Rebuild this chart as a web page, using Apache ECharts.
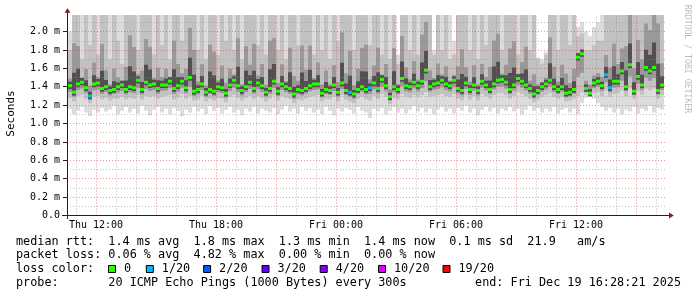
<!DOCTYPE html>
<html><head><meta charset="utf-8">
<script src="https://cdn.jsdelivr.net/npm/echarts@6/dist/echarts.min.js"></script>
<style>html,body{margin:0;padding:0;background:#fff}#c{width:697px;height:297px}</style>
</head><body><div id="c"></div>
<script>
// ---- data (hours since Thu 00:00; values in ms, the axis "m") ----
const stepStart = 10.6;
const stepHours = 0.2;
const median = [
1.41,1.34,1.43,1.45,1.39,1.30,1.43,1.44,1.38,1.40,
1.36,1.37,1.40,1.42,1.37,1.40,1.39,1.47,1.37,1.45,
1.42,1.43,1.38,1.42,1.42,1.46,1.38,1.41,1.46,1.39,
1.50,1.35,1.37,1.43,1.34,1.37,1.35,1.40,1.39,1.33,
1.42,1.47,1.41,1.36,1.40,1.45,1.38,1.44,1.41,1.34,
1.38,1.46,1.35,1.43,1.40,1.38,1.32,1.37,1.36,1.38,
1.41,1.43,1.43,1.33,1.37,1.36,1.42,1.34,1.44,1.36,
1.34,1.32,1.37,1.40,1.37,1.39,1.44,1.38,1.48,1.41,
1.29,1.40,1.37,1.49,1.41,1.40,1.45,1.41,1.46,1.58,
1.40,1.43,1.44,1.47,1.43,1.41,1.47,1.38,1.36,1.44,
1.37,1.42,1.36,1.46,1.42,1.37,1.43,1.47,1.48,1.45,
1.37,1.42,1.49,1.46,1.42,1.38,1.32,1.36,1.40,1.43,
1.47,1.40,1.37,1.40,1.33,1.34,1.37,1.72,1.76,1.38,
1.33,1.44,1.46,1.41,1.53,1.39,1.46,1.46,1.57,1.40,
1.64,1.35,1.51,1.42,1.61,1.57,1.61,1.36,1.42];
const lossCount = [
0,0,0,0,0,1,0,0,0,0, 0,0,0,0,0,0,0,0,0,0, 0,0,0,0,0,0,0,0,0,0,
0,0,0,0,0,0,0,0,0,0, 0,0,0,0,0,0,0,0,0,0, 0,0,0,0,0,0,0,0,0,0,
0,0,0,0,0,0,0,0,0,0, 1,0,0,0,0,1,0,0,0,0, 0,0,0,0,0,0,0,0,0,0,
0,0,0,0,0,0,0,0,0,0, 0,0,0,0,0,0,0,0,0,0, 0,0,0,0,0,0,0,0,0,0,
0,0,0,0,0,0,0,0,0,0, 0,0,0,0,1,1,0,0,0,0, 0,0,0,0,0,0,0,0,0];
const pingMin = [
1.16,1.10,1.14,1.18,1.12,1.08,1.15,1.12,1.17,1.13,
1.15,1.19,1.10,1.14,1.18,1.12,1.16,1.11,1.19,1.14,
1.09,1.15,1.18,1.12,1.16,1.10,1.17,1.14,1.08,1.15,
1.12,1.18,1.13,1.16,1.10,1.19,1.14,1.17,1.11,1.15,
1.18,1.12,1.15,1.09,1.16,1.13,1.18,1.11,1.16,1.14,
1.12,1.17,1.10,1.15,1.19,1.13,1.16,1.11,1.18,1.14,
1.17,1.12,1.15,1.10,1.18,1.14,1.09,1.16,1.13,1.17,
1.15,1.11,1.18,1.14,1.12,1.06,1.16,1.13,1.17,1.10,
1.14,1.18,1.12,1.16,1.11,1.15,1.19,1.13,1.17,1.12,
1.16,1.10,1.15,1.18,1.13,1.16,1.11,1.17,1.14,1.19,
1.12,1.16,1.09,1.15,1.18,1.13,1.17,1.11,1.16,1.14,
1.18,1.13,1.16,1.10,1.15,1.19,1.14,1.17,1.12,1.16,
1.13,1.18,1.11,1.15,1.17,1.12,1.16,1.10,1.22,1.28,
1.30,1.27,1.22,1.18,1.14,1.17,1.12,1.16,1.10,1.15,
1.13,1.18,1.11,1.16,1.14,1.19,1.12,1.17,1.15];
const pingQ1 = [
1.28,1.24,1.30,1.31,1.27,1.22,1.29,1.30,1.26,1.28,
1.25,1.27,1.27,1.29,1.26,1.28,1.27,1.31,1.26,1.30,
1.29,1.30,1.27,1.29,1.30,1.31,1.26,1.28,1.32,1.27,
1.30,1.25,1.26,1.30,1.24,1.27,1.25,1.28,1.27,1.23,
1.29,1.31,1.28,1.25,1.28,1.30,1.27,1.30,1.28,1.24,
1.27,1.31,1.25,1.30,1.28,1.27,1.22,1.26,1.25,1.27,
1.29,1.30,1.31,1.24,1.27,1.26,1.29,1.24,1.31,1.26,
1.24,1.22,1.27,1.29,1.26,1.25,1.30,1.27,1.32,1.29,
1.21,1.28,1.26,1.32,1.29,1.28,1.31,1.29,1.31,1.34,
1.29,1.30,1.31,1.32,1.30,1.29,1.32,1.27,1.25,1.31,
1.26,1.30,1.25,1.32,1.30,1.27,1.31,1.33,1.33,1.31,
1.27,1.30,1.34,1.32,1.30,1.27,1.23,1.26,1.29,1.31,
1.33,1.29,1.27,1.29,1.24,1.25,1.27,1.30,1.34,1.31,
1.30,1.33,1.34,1.30,1.36,1.29,1.32,1.33,1.36,1.30,
1.38,1.27,1.35,1.31,1.38,1.36,1.38,1.27,1.31];
const pingQ3 = [
1.80,4.0,3.5,1.70,2.40,1.85,2.60,1.75,3.8,2.30,
1.70,2.50,1.90,1.65,2.60,4.2,3.6,1.80,2.40,3.8,
3.5,1.75,2.50,1.85,2.30,1.70,4.0,2.60,1.90,2.40,
4.2,3.6,1.80,2.50,1.70,3.8,3.5,1.75,2.60,1.90,
2.30,1.80,4.0,1.70,3.6,2.40,3.8,1.85,2.60,1.75,
4.0,3.8,1.80,2.50,1.70,3.6,2.30,1.85,3.8,2.40,
3.6,1.75,2.60,1.80,2.40,1.70,2.50,1.90,4.2,2.30,
3.6,1.80,2.50,3.5,3.8,1.85,2.40,3.6,1.75,2.60,
1.70,3.5,1.65,3.8,2.40,1.80,2.60,1.75,4.0,4.2,
2.30,1.75,2.50,1.80,2.40,1.70,1.75,2.60,3.6,2.30,
1.80,2.50,1.70,2.40,1.85,2.60,3.8,4.0,1.80,2.40,
3.6,3.8,1.75,2.50,3.5,1.80,2.40,1.70,1.65,1.75,
3.8,2.50,1.80,2.60,2.40,1.85,2.50,1.95,1.98,1.80,
1.80,1.85,1.90,1.90,2.60,2.50,3.5,2.40,2.80,3.6,
4.5,2.60,3.5,2.80,4.0,3.8,5.0,5.0,2.60];
const pingMax = [
2.0,3,3,3,3,3,3,3,3,3, 3,3,3,3,3,3,3,3,3,3, 3,3,3,3,3,3,3,3,3,3,
3,3,3,3,3,3,3,3,3,3, 3,3,3,3,3,3,3,3,3,3, 3,3,3,3,3,3,3,3,3,3,
3,3,3,3,3,3,3,3,3,3, 3,3,3,3,3,3,3,3,3,3, 3,3,1.75,3,3,3,3,3,3,3,
3,1.80,3,3,3,3,1.90,3,3,3, 3,3,3,3,3,3,3,3,3,3, 3,3,3,3,3,3,3,1.72,1.70,1.78,
3,3,3,3,3,3,3,2.05,2.10,2.0, 1.95,2.05,2.10,3,3,3,3,3,3,3, 3,3,3,3,3,3,3,3,3];

const xTickValues = [12, 18, 24, 30, 36];
const xTickLabels = ['Thu 12:00', 'Thu 18:00', 'Fri 00:00', 'Fri 06:00', 'Fri 12:00'];
const yTickValues = [0, 0.2, 0.4, 0.6, 0.8, 1.0, 1.2, 1.4, 1.6, 1.8, 2.0];
const lossLevels = ['0', '1/20', '2/20', '3/20', '4/20', '10/20', '19/20'];
const lossColors = ['#26ff00', '#00b8ff', '#0059ff', '#5e00ff', '#7e00ff', '#dd00ff', '#ff0000'];
const statLine1 = 'median rtt:  1.4 ms avg  1.8 ms max  1.3 ms min  1.4 ms now  0.1 ms sd  21.9   am/s';
const statLine2 = 'packet loss: 0.06 % avg  4.82 % max  0.00 % min  0.00 % now';
const probeLine = 'probe:       20 ICMP Echo Pings (1000 Bytes) every 300s';
const endLine = 'end: Fri Dec 19 16:28:21 2025';

// ---- layout ----
const X_MIN = 10.55, X_MAX = 40.47, Y_MAX = 2.18;
const MONO = '"DejaVu Sans Mono", monospace';

const rows = median.map((m, i) => [stepStart + i * stepHours, pingMin[i], pingQ1[i], m, pingQ3[i], pingMax[i], lossCount[i]]);

function clampY(v) { return Math.max(0, Math.min(Y_MAX, v)); }

function smokeItem(params, api) {
  const t = api.value(0);
  const lo = api.value(1), q1 = api.value(2), med = api.value(3), q3 = api.value(4), hi = api.value(5);
  const x0 = api.coord([t, 0])[0];
  const x1 = api.coord([t + stepHours, 0])[0];
  const yOf = v => api.coord([t, clampY(v)])[1];
  const band = (a, b, fill) => {
    const ya = yOf(a), yb = yOf(b);
    return { type: 'rect', shape: { x: x0, y: yb, width: x1 - x0, height: Math.max(0, ya - yb) }, style: { fill } };
  };
  return {
    type: 'group', children: [
      band(lo, hi, '#dcdcdc'),
      band(q1, q3, '#c2c2c2'),
      band((q1 + med) / 2, med + (q3 - med) * 0.2, '#999999'),
      band(med - 0.035, Math.max(med + 0.045, med + (q3 - med) * 0.08), '#505050')
    ]
  };
}

function lossIndex(n) {
  const steps = [0, 1, 2, 3, 4, 10, 19];
  let k = 0;
  for (let j = 0; j < steps.length; j++) if (n >= steps[j]) k = j;
  return k;
}

function medianItem(params, api) {
  const t = api.value(0), med = api.value(3), loss = api.value(6);
  const x0 = api.coord([t, 0])[0];
  const x1 = api.coord([t + stepHours, 0])[0];
  const y = api.coord([t, clampY(med)])[1];
  return { type: 'rect', shape: { x: x0, y: y - 1.5, width: x1 - x0, height: 3 }, style: { fill: lossColors[lossIndex(loss)] } };
}

const vMinor = [], vMajor = [], hMinor = [], hMajor = [];
for (let h = 11; h <= 40; h++) (h % 3 === 0 ? vMajor : vMinor).push({ xAxis: h });
for (let k = 1; k <= 21; k++) (k % 2 === 0 ? hMajor : hMinor).push({ yAxis: +(k * 0.1).toFixed(1) });

function gridSeries(lines, color, z) {
  return {
    type: 'line', data: [], silent: true, z,
    markLine: {
      silent: true, symbol: ['none', 'none'], animation: false,
      label: { show: false },
      lineStyle: { color, width: 1, type: [1, 2] },
      emphasis: { disabled: true },
      data: lines
    }
  };
}

const chart = echarts.init(document.getElementById('c'), null, { renderer: 'canvas' });

const graphics = [];
graphics.push({ type: 'line', shape: { x1: 62, y1: 215.5, x2: 669, y2: 215.5 }, style: { stroke: '#222', lineWidth: 1 }, z: 20 });
graphics.push({ type: 'line', shape: { x1: 67.5, y1: 219, x2: 67.5, y2: 12 }, style: { stroke: '#222', lineWidth: 1 }, z: 20 });
graphics.push({ type: 'polygon', shape: { points: [[64.5, 12.8], [70.5, 12.8], [67.5, 8.3]] }, style: { fill: '#8c1c1c' }, z: 21 });
graphics.push({ type: 'polygon', shape: { points: [[669, 212.5], [669, 218.5], [673.8, 215.5]] }, style: { fill: '#8c1c1c' }, z: 21 });
graphics.push({ type: 'text', x: 11, y: 113.5, rotation: Math.PI / 2, style: { text: 'Seconds', font: '11px ' + MONO, fill: '#000', align: 'center', verticalAlign: 'middle' } });
graphics.push({ type: 'text', x: 687, y: 59, rotation: -Math.PI / 2, style: { text: 'RRDTOOL / TOBI OETIKER', font: '8.2px ' + MONO, fill: '#bdbdbd', align: 'center', verticalAlign: 'middle' } });
const legendFont = '11.8px ' + MONO;
graphics.push({ type: 'text', x: 16, y: 241.5, style: { text: statLine1, font: legendFont, fill: '#000', verticalAlign: 'middle' } });
graphics.push({ type: 'text', x: 16, y: 255.2, style: { text: statLine2, font: legendFont, fill: '#000', verticalAlign: 'middle' } });
graphics.push({ type: 'text', x: 16, y: 269, style: { text: 'loss color:', font: legendFont, fill: '#000', verticalAlign: 'middle' } });
graphics.push({ type: 'text', x: 16, y: 282.7, style: { text: probeLine, font: legendFont, fill: '#000', verticalAlign: 'middle' } });
graphics.push({ type: 'text', x: 681, y: 282.7, style: { text: endLine, font: legendFont, fill: '#000', align: 'right', verticalAlign: 'middle' } });
const swatchX = [108.5, 146.3, 203.6, 262, 320.2, 378.5, 443];
lossLevels.forEach((lab, j) => {
  graphics.push({ type: 'rect', shape: { x: swatchX[j], y: 265.5, width: 7, height: 7 }, style: { fill: lossColors[j], stroke: '#000', lineWidth: 1 } });
  graphics.push({ type: 'text', x: swatchX[j] + 15.5, y: 269, style: { text: lab, font: legendFont, fill: '#000', verticalAlign: 'middle' } });
});

chart.setOption({
  animation: false,
  backgroundColor: '#fff',
  grid: { left: 67, top: 15, width: 598.4, height: 200.5, containLabel: false },
  xAxis: {
    type: 'value', min: X_MIN, max: X_MAX,
    axisLine: { show: false },
    splitLine: { show: false },
    axisTick: { show: false },
    axisLabel: {
      customValues: xTickValues,
      formatter: v => xTickLabels[xTickValues.indexOf(v)] || '',
      fontFamily: 'DejaVu Sans Mono', fontSize: 10, color: '#000', margin: 4.5
    }
  },
  yAxis: {
    type: 'value', min: 0, max: Y_MAX,
    axisLine: { show: false },
    splitLine: { show: false },
    axisTick: { show: true, customValues: yTickValues, length: 4, lineStyle: { color: '#222' } },
    axisLabel: {
      customValues: yTickValues,
      formatter: v => v === 0 ? '0.0' : v.toFixed(1) + ' m',
      fontFamily: 'DejaVu Sans Mono', fontSize: 10, color: '#000', margin: 7
    }
  },
  series: [
    { type: 'custom', name: 'smoke', data: rows, renderItem: smokeItem, clip: true, z: 2, silent: true, encode: { x: 0, y: 3 } },
    gridSeries(vMinor.concat(hMinor), 'rgba(140,140,140,0.55)', 4),
    gridSeries(vMajor.concat(hMajor), 'rgba(220,60,60,0.55)', 5),
    { type: 'custom', name: 'median', data: rows, renderItem: medianItem, clip: true, z: 6, silent: true, encode: { x: 0, y: 3 } }
  ],
  graphic: graphics
});
</script>
</body></html>
